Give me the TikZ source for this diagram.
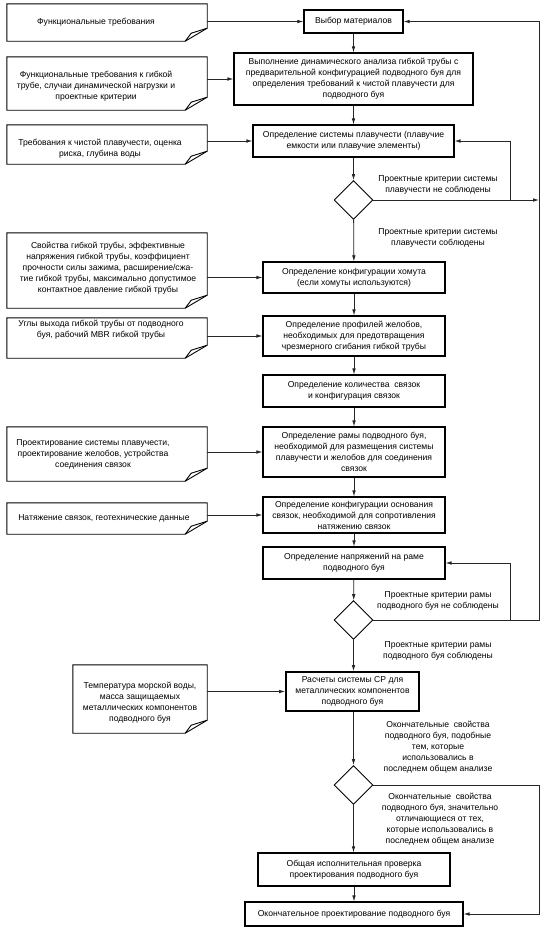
\documentclass[tikz,border=0pt]{standalone}
\usepackage{fontspec}
\setmainfont{Liberation Sans}
\usetikzlibrary{arrows.meta,shapes.geometric}
\newcommand\fs{\fontsize{8.6}{11}\selectfont}
\newcommand\foldbox[1]{%
  \draw[fold] (#1.north west) -- (#1.north east) -- ([yshift=13pt]#1.south east)
     -- ([xshift=-22pt]#1.south east) -- (#1.south west) -- cycle;
  \draw[fold] ([xshift=-22pt]#1.south east) -- ([xshift=-16pt,yshift=8pt]#1.south east)
     -- ([yshift=13pt]#1.south east);}
\begin{document}
\begin{tikzpicture}[x=1pt,y=-1pt,
  box/.style={draw=black, line width=1.1pt, inner sep=0pt, align=center, font=\fs},
  dia/.style={draw=black, diamond, line width=0.9pt, minimum width=39pt, minimum height=39pt, inner sep=0pt},
  inbox/.style={inner sep=0pt, minimum width=200pt},
  fold/.style={draw=black, line width=0.9pt},
  txt/.style={align=center, font=\fs, inner sep=0pt},
  arr/.style={draw=black!85, line width=0.8pt, -{Latex[length=6pt,width=3.6pt]}},
  ln/.style={draw=black!85, line width=0.8pt}
]
\useasboundingbox (0,0) rectangle (551,930);
\fill[white] (0,0) rectangle (551,930);

% main column
\node[box, minimum width=99pt, minimum height=23pt] (b1) at (353.5,21.5) {Выбор материалов};
\node[box, minimum width=239pt, minimum height=52pt] (b2) at (353.5,79) {Выполнение динамического анализа гибкой трубы с\\предварительной конфигурацией подводного буя для\\определения требований к чистой плавучести для\\подводного буя};
\node[box, minimum width=201pt, minimum height=32pt] (b3) at (353.5,141) {Определение системы плавучести (плавучие\\емкости или плавучие элементы)};
\node[dia] (d1) at (353.5,200) {};
\node[box, minimum width=182pt, minimum height=31pt] (b4) at (354,277.5) {Определение конфигурации хомута\\(если хомуты используются)};
\node[box, minimum width=182pt, minimum height=40pt] (b5) at (354,336) {Определение профилей желобов,\\необходимых для предотвращения\\чрезмерного сгибания гибкой трубы};
\node[box, minimum width=182pt, minimum height=32pt] (b6) at (354,391) {Определение количества~~связок\\и конфигурация связок};
\node[box, minimum width=182pt, minimum height=50pt] (b7) at (354,452) {Определение рамы подводного буя,\\необходимой для размещения системы\\плавучести и желобов для соединения\\связок};
\node[box, minimum width=182pt, minimum height=36pt] (b8) at (354,515) {Определение конфигурации основания\\связок, необходимой для сопротивления\\натяжению связок};
\node[box, minimum width=182pt, minimum height=32pt] (b9) at (354,563) {Определение напряжений на раме\\подводного буя};
\node[dia] (d2) at (353.5,620) {};
\node[box, line width=1.7pt, minimum width=133pt, minimum height=39pt] (b10) at (352.5,691.5) {Расчеты системы CP для\\металлических компонентов\\подводного буя};
\node[dia] (d3) at (353.5,785) {};
\node[box, minimum width=192pt, minimum height=33pt] (b11) at (354,869.5) {Общая исполнительная проверка\\проектирования подводного буя};
\node[box, minimum width=218pt, minimum height=24pt] (b12) at (354,914) {Окончательное проектирование подводного буя};

% labels
\node[txt] (l1) at (438,184.5) {Проектные критерии системы\\плавучести не соблюдены};
\node[txt] (l2) at (438,238) {Проектные критерии системы\\плавучести соблюдены};
\node[txt] (l3) at (438,601) {Проектные критерии рамы\\подводного буя не соблюдены};
\node[txt] (l4) at (438,650.5) {Проектные критерии рамы\\подводного буя соблюдены};
\node[txt] (l5) at (438,747.5) {Окончательные~~свойства\\подводного буя, подобные\\тем, которые\\использовались в\\последнем общем анализе};
\node[txt] (l6) at (440,819) {Окончательные~~свойства\\подводного буя, значительно\\отличающиеся от тех,\\которые использовались в\\последнем общем анализе};

% input boxes
\node[inbox, minimum height=37pt] (in1) at (107,22.5) {};
\node[inbox, minimum height=53pt] (in2) at (107,83.5) {};
\node[inbox, minimum height=39pt] (in3) at (107,144.5) {};
\node[inbox, minimum height=75pt] (in4) at (107,270.5) {};
\node[inbox, minimum height=40pt] (in5) at (107,338) {};
\node[inbox, minimum height=54pt] (in7) at (107,454) {};
\node[inbox, minimum height=31pt] (in8) at (107,518.5) {};
\node[inbox, minimum width=134pt, minimum height=68pt] (in10) at (140,699) {};
\foreach \n in {in1,in2,in3,in4,in5,in7,in8,in10} {\foldbox{\n}}

\node[txt] (t1) at (96,22) {Функциональные требования};
\node[txt] (t2) at (96,86) {Функциональные требования к гибкой\\трубе, случаи динамической нагрузки и\\проектные критерии};
\node[txt] (t3) at (100,149) {Требования к чистой плавучести, оценка\\риска, глубина воды};
\node[txt] (t4) at (108,268) {Свойства гибкой трубы, эффективные\\напряжения гибкой трубы, коэффициент\\прочности силы зажима, расширение/сжа-\\тие гибкой трубы, максимально допустимое\\контактное давление гибкой трубы};
\node[txt] (t5) at (101,330) {Углы выхода гибкой трубы от подводного\\буя, рабочий MBR гибкой трубы};
\node[txt] (t7) at (93,454) {Проектирование системы плавучести,\\проектирование желобов, устройства\\соединения связок};
\node[txt] (t8) at (104,518) {Натяжение связок, геотехнические данные};
\node[txt] (t10) at (140,703) {Температура морской воды,\\масса защищаемых\\металлических компонентов\\подводного буя};

% right-side rails
\coordinate (R) at (539,0);
\coordinate (L) at (510,0);

% input arrows
\draw[arr] (b1.west -| in1.east) -- (b1.west);
\draw[arr] (b2.west -| in2.east) -- (b2.west);
\draw[arr] (b3.west -| in3.east) -- (b3.west);
\draw[arr] (b4.west -| in4.east) -- (b4.west);
\draw[arr] (b5.west -| in5.east) -- (b5.west);
\draw[arr] (b7.west -| in7.east) -- (b7.west);
\draw[arr] (b8.west -| in8.east) -- (b8.west);
\draw[arr] (b10.west -| in10.east) -- (b10.west);

% main flow
\draw[arr] (b1) -- (b2);
\draw[arr] (b2) -- (b3);
\draw[arr] (b3) -- (d1);
\draw[arr] (d1) -- (b4);
\draw[arr] (b4) -- (b5);
\draw[arr] (b5) -- (b6);
\draw[arr] (b6) -- (b7);
\draw[arr] (b7) -- (b8);
\draw[arr] (b8) -- (b9);
\draw[arr] (b9) -- (d2);
\draw[arr] (d2) -- (b10.north -| d2);
\draw[arr] (b10.south -| d3) -- (d3);
\draw[arr] (d3) -- (b11.north -| d3);
\draw[arr] (b11) -- (b12);

% loops
\draw[arr] (d1.east) -- (d1.east -| R);
\draw[arr] (d1.east -| L) |- (b3.east);
\draw[arr] (d2.east) -- (d2.east -| R) |- (b1.east);
\draw[arr] (d2.east -| L) |- (b9.east);
\draw[arr] (d3.east) -- (d3.east -| R) |- (b12.east);
\end{tikzpicture}
\end{document}
